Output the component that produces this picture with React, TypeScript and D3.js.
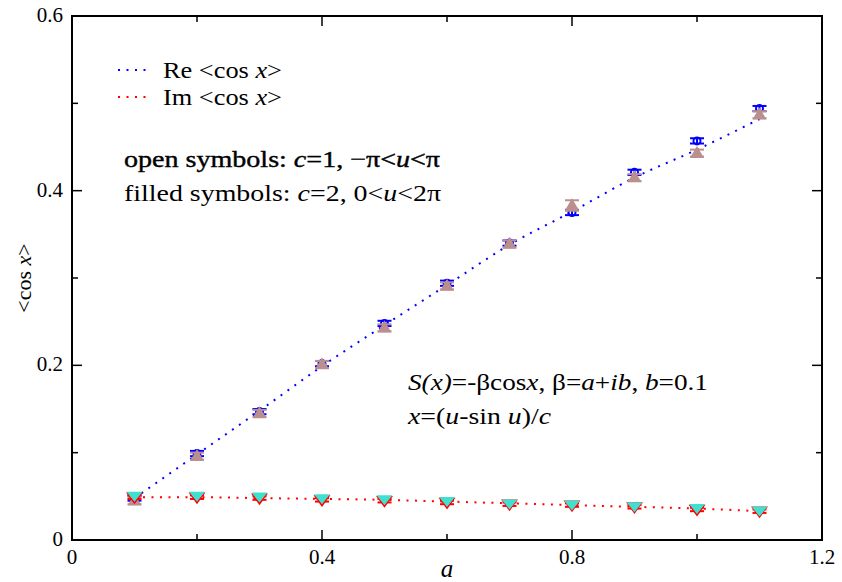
import React from "react";
import * as d3 from "d3";

const aVals = [0.1, 0.2, 0.3, 0.4, 0.5, 0.6, 0.7, 0.8, 0.9, 1.0, 1.1];
const reOpen = [0.048, 0.099, 0.147, 0.202, 0.248, 0.294, 0.340, 0.375, 0.421, 0.457, 0.494];
const reOpenErr = [0.003, 0.003, 0.003, 0.003, 0.003, 0.003, 0.003, 0.003, 0.003, 0.003, 0.003];
const reFilled = [0.045, 0.096, 0.145, 0.201, 0.243, 0.291, 0.339, 0.383, 0.415, 0.443, 0.487];
const reFilledErr = [0.004, 0.004, 0.004, 0.004, 0.004, 0.004, 0.004, 0.006, 0.004, 0.004, 0.004];
const imOpen = [0.049, 0.049, 0.048, 0.046, 0.045, 0.043, 0.041, 0.040, 0.038, 0.035, 0.033];
const imOpenErr = [0.002, 0.002, 0.002, 0.002, 0.002, 0.002, 0.002, 0.002, 0.002, 0.002, 0.002];
const imFilled = [0.049, 0.049, 0.048, 0.046, 0.045, 0.043, 0.040, 0.039, 0.037, 0.035, 0.032];
const reLine = [0.048, 0.098, 0.148, 0.199, 0.246, 0.292, 0.338, 0.376, 0.415, 0.447, 0.482];
const imLine = [0.049, 0.049, 0.048, 0.047, 0.046, 0.044, 0.042, 0.040, 0.038, 0.036, 0.033];

const xMajor = [0, 0.4, 0.8, 1.2];
const xMinor = [0.2, 0.6, 1.0];
const yMajor = [0, 0.2, 0.4, 0.6];
const yMinor = [0.1, 0.3, 0.5];
const xTickLabels = ["0", "0.4", "0.8", "1.2"];
const yTickLabels = ["0", "0.2", "0.4", "0.6"];

const W = 842, H = 582;
const L = 72, R = 822, T = 16, B = 540;
const FONT = "Liberation Serif";

export default function App() {
  const x = d3.scaleLinear().domain([0, 1.2]).range([L, R]);
  const y = d3.scaleLinear().domain([0, 0.6]).range([B, T]);
  const line = d3.line<number>().x((_, i) => x(aVals[i])).y((d) => y(d)).curve(d3.curveMonotoneX);

  const errBar = (xi: number, v: number, e: number, color: string, cap: number, key: string) => (
    <g key={key} stroke={color} strokeWidth={2}>
      <line x1={xi} x2={xi} y1={y(v - e)} y2={y(v + e)} />
      <line x1={xi - cap} x2={xi + cap} y1={y(v - e)} y2={y(v - e)} />
      <line x1={xi - cap} x2={xi + cap} y1={y(v + e)} y2={y(v + e)} />
    </g>
  );

  const triUp = (cx: number, cy: number, w: number, h: number) =>
    `M${cx},${cy - h * 0.6} L${cx + w / 2},${cy + h * 0.4} L${cx - w / 2},${cy + h * 0.4} Z`;
  const triDown = (cx: number, cy: number, w: number, h: number) =>
    `M${cx - w / 2},${cy - h * 0.4} L${cx + w / 2},${cy - h * 0.4} L${cx},${cy + h * 0.6} Z`;

  const ann = { fontFamily: FONT, fontSize: 24, lengthAdjust: "spacingAndGlyphs" as const };

  return (
    <svg width={W} height={H} style={{ position: "absolute", left: 0, top: 0, background: "#fff" }}>
      <rect x={0} y={0} width={W} height={H} fill="#fff" />
      <path d={line(reLine) || ""} fill="none" stroke="#0000ff" strokeWidth={2} strokeDasharray="2 6.5" />
      <path d={line(imLine) || ""} fill="none" stroke="#ff0000" strokeWidth={2} strokeDasharray="2 6.5" />

      {aVals.map((a, i) => errBar(x(a), reOpen[i], reOpenErr[i], "#0000ff", 7, "reo" + i))}
      {aVals.map((a, i) => (
        <circle key={"rec" + i} cx={x(a)} cy={y(reOpen[i])} r={3.5} fill="none" stroke="#0000ff" strokeWidth={2} />
      ))}
      {aVals.map((a, i) => errBar(x(a), reFilled[i], reFilledErr[i], "#bc8f8f", 7, "ref" + i))}
      {aVals.map((a, i) => (
        <path key={"ret" + i} d={triUp(x(a), y(reFilled[i]), 14, 12)} fill="#bc8f8f" />
      ))}
      {aVals.map((a, i) => errBar(x(a), imOpen[i], imOpenErr[i], "#ff0000", 7, "imo" + i))}
      {aVals.map((a, i) => (
        <path key={"imt" + i} d={triDown(x(a), y(imOpen[i]), 13, 9)} fill="none" stroke="#ff0000" strokeWidth={2} />
      ))}
      {aVals.map((a, i) => (
        <path key={"imf" + i} d={triDown(x(a), y(imFilled[i]) - 1.5, 16, 10)} fill="#40e0d0" />
      ))}

      <rect x={L} y={T} width={R - L} height={B - T} fill="none" stroke="#000" strokeWidth={2} />
      <g stroke="#000" strokeWidth={1.5}>
        {xMajor.map((v) => (
          <g key={"xM" + v}>
            <line x1={x(v)} x2={x(v)} y1={B} y2={B - 10} />
            <line x1={x(v)} x2={x(v)} y1={T} y2={T + 10} />
          </g>
        ))}
        {xMinor.map((v) => (
          <g key={"xm" + v}>
            <line x1={x(v)} x2={x(v)} y1={B} y2={B - 6} />
            <line x1={x(v)} x2={x(v)} y1={T} y2={T + 6} />
          </g>
        ))}
        {yMajor.map((v) => (
          <g key={"yM" + v}>
            <line x1={L} x2={L + 10} y1={y(v)} y2={y(v)} />
            <line x1={R} x2={R - 10} y1={y(v)} y2={y(v)} />
          </g>
        ))}
        {yMinor.map((v) => (
          <g key={"ym" + v}>
            <line x1={L} x2={L + 6} y1={y(v)} y2={y(v)} />
            <line x1={R} x2={R - 6} y1={y(v)} y2={y(v)} />
          </g>
        ))}
      </g>
      {xMajor.map((v, i) => (
        <text key={"xl" + v} x={x(v)} y={B + 24} textAnchor="middle" fontFamily={FONT} fontSize={21}>{xTickLabels[i]}</text>
      ))}
      {yMajor.map((v, i) => (
        <text key={"yl" + v} x={L - 9} y={y(v) + 6} textAnchor="end" fontFamily={FONT} fontSize={21}>{yTickLabels[i]}</text>
      ))}
      <text x={x(0.6)} y={577} fontFamily={FONT} fontSize={25} fontStyle="italic" textAnchor="middle">a</text>
      <text transform={`translate(31,${y(0.3)}) rotate(-90)`} fontFamily={FONT} fontSize={22} textAnchor="middle">
        &lt;cos <tspan fontStyle="italic">x</tspan>&gt;
      </text>

      <line x1={118} x2={150} y1={70} y2={70} stroke="#0000ff" strokeWidth={2} strokeDasharray="2 6.5" />
      <line x1={118} x2={150} y1={97} y2={97} stroke="#ff0000" strokeWidth={2} strokeDasharray="2 6.5" />
      <text x={163} y={78} {...ann} textLength={119}>Re &lt;cos <tspan fontStyle="italic">x</tspan>&gt;</text>
      <text x={163} y={105} {...ann} textLength={119}>Im &lt;cos <tspan fontStyle="italic">x</tspan>&gt;</text>
      <text x={124} y={167} {...ann} textLength={316} stroke="#000" strokeWidth={0.4}>open symbols: <tspan fontStyle="italic">c</tspan>=1, −π&lt;<tspan fontStyle="italic">u</tspan>&lt;π</text>
      <text x={124} y={201} {...ann} textLength={317}>filled symbols: <tspan fontStyle="italic">c</tspan>=2, 0&lt;<tspan fontStyle="italic">u</tspan>&lt;2π</text>
      <text x={408} y={390} {...ann} textLength={300}>
        <tspan fontStyle="italic">S(x)</tspan>=-βcos<tspan fontStyle="italic">x</tspan>, β=<tspan fontStyle="italic">a</tspan>+<tspan fontStyle="italic">ib</tspan>, <tspan fontStyle="italic">b</tspan>=0.1
      </text>
      <text x={408} y={424} {...ann} textLength={143}>
        <tspan fontStyle="italic">x</tspan>=(<tspan fontStyle="italic">u</tspan>-sin <tspan fontStyle="italic">u</tspan>)/<tspan fontStyle="italic">c</tspan>
      </text>
    </svg>
  );
}
